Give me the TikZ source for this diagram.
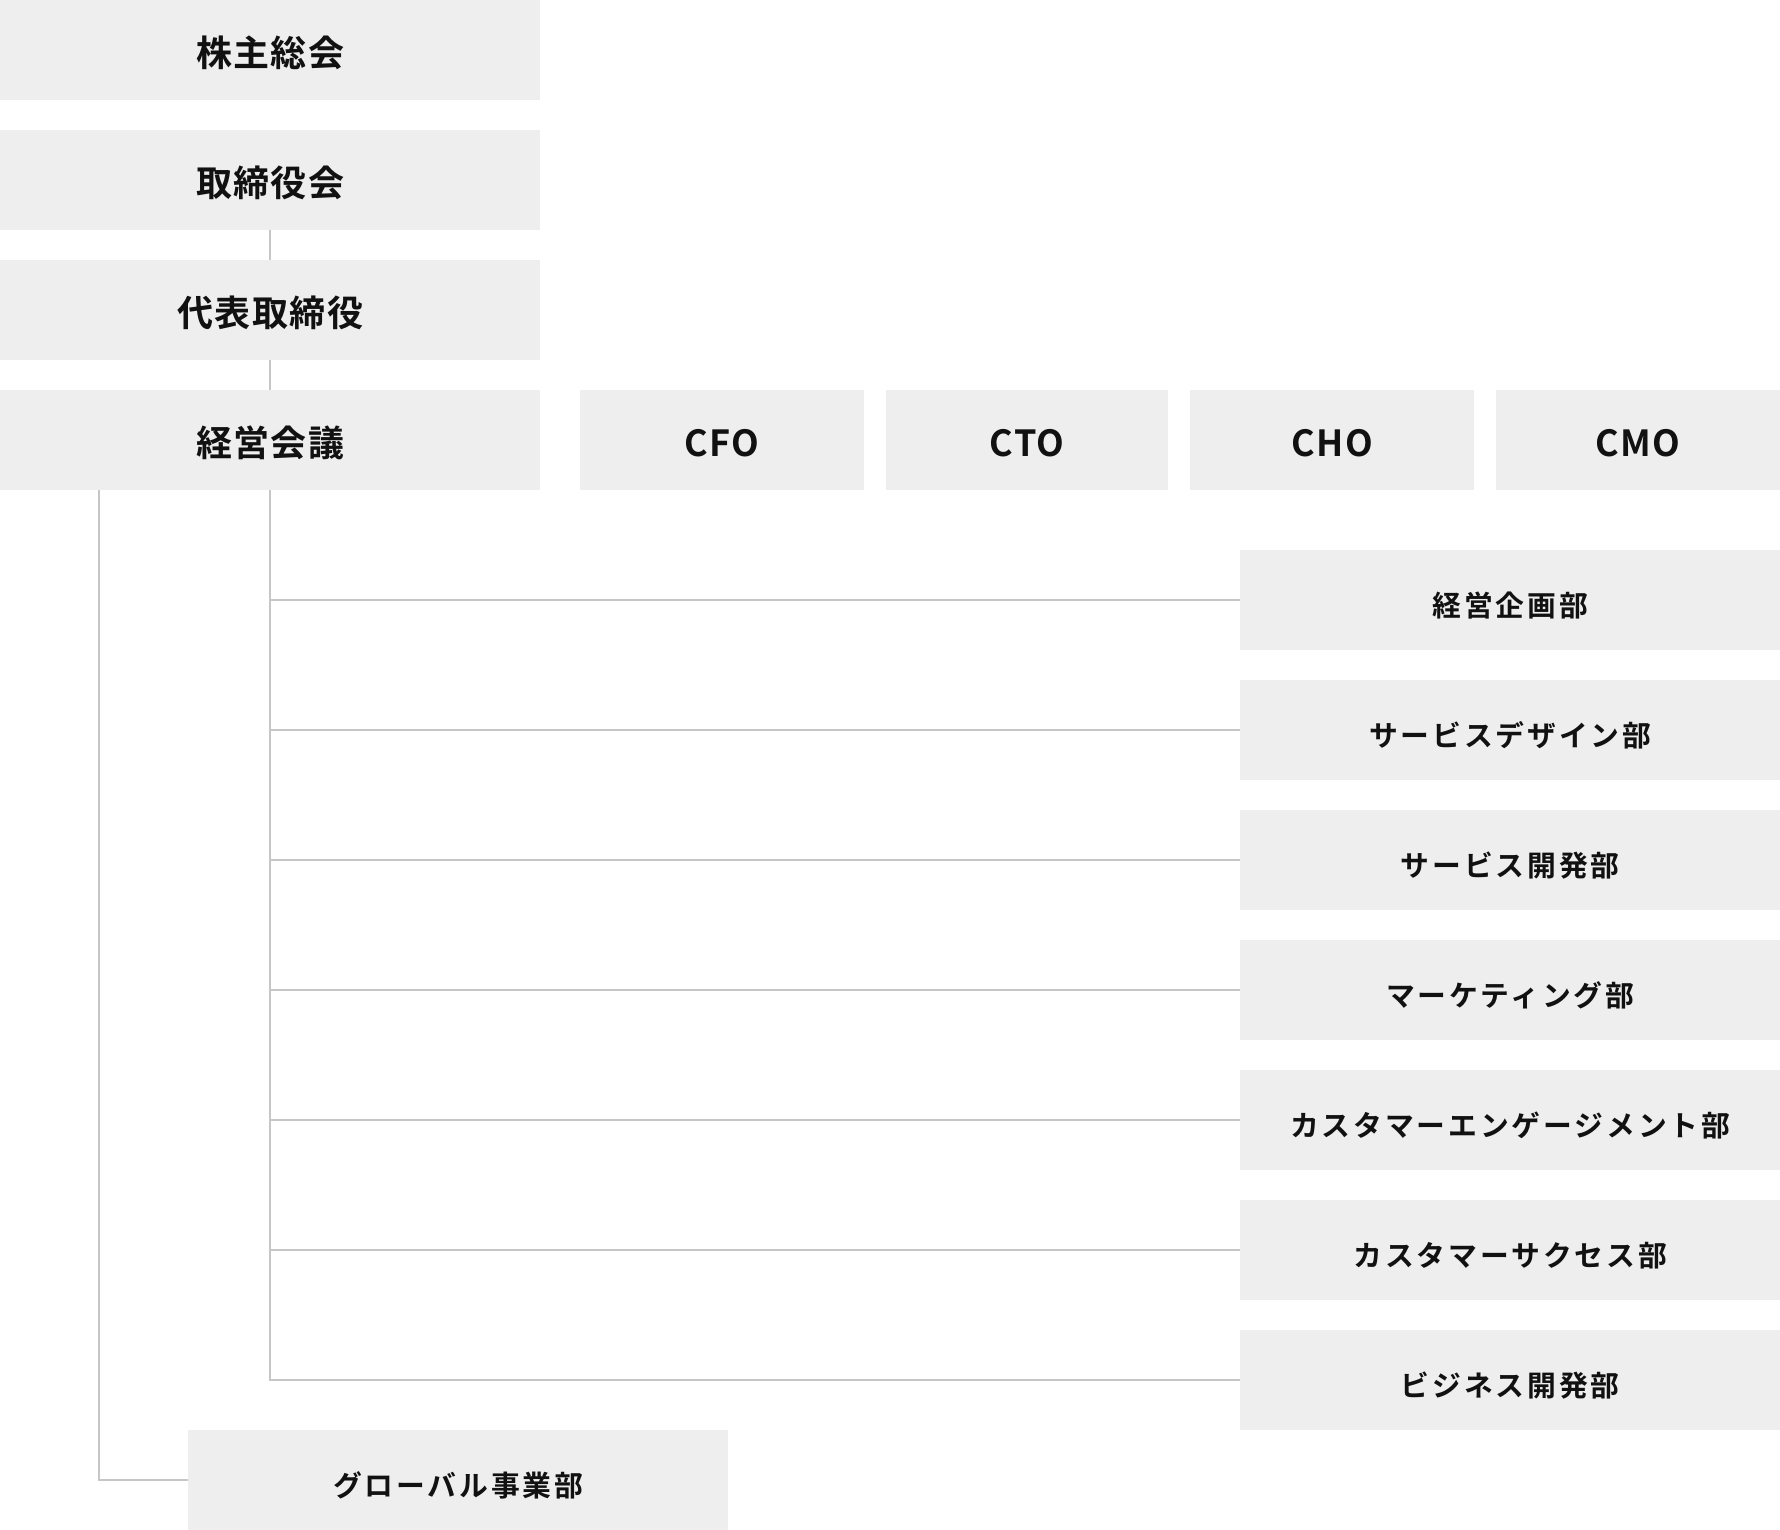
\documentclass[tikz,border=0pt]{standalone}
\usepackage{fontspec}
\newfontfamily\jpbig{Noto Sans CJK JP Bold}[LetterSpace=4]
\newfontfamily\jpsmall{Noto Sans CJK JP Bold}[LetterSpace=10]
\definecolor{boxgray}{HTML}{EEEEEE}
\definecolor{linegray}{HTML}{C6C6C6}
\definecolor{txt}{HTML}{111111}
% lower the glyphs inside a centred node by half of #1
\newcommand\lowtext[2]{\raisebox{0pt}[\dimexpr\height+#1\relax][\depth]{#2}}
\newcommand\tb[1]{\lowtext{6pt}{#1}}
\newcommand\db[1]{\lowtext{10pt}{#1}}
\begin{document}
\begin{tikzpicture}[x=1pt,y=-1pt,
  box/.style={rectangle,fill=boxgray,inner sep=0pt,anchor=north west,text=txt,
    minimum height=100pt},
  topbox/.style={box,minimum width=540pt,font=\jpbig\fontsize{36}{42}\selectfont},
  cbox/.style={box,minimum width=284pt,font=\jpbig\fontsize{36}{42}\selectfont},
  dept/.style={box,minimum width=540pt,font=\jpsmall\fontsize{28.8}{34}\selectfont},
  conn/.style={draw=linegray,line width=2pt}]
\useasboundingbox (0,0) rectangle (1780,1530);
\node[topbox] (kabu) at (0,0) {\tb{株主総会}};
\node[topbox] (tori) at (0,130) {\tb{取締役会}};
\node[topbox] (daihyo) at (0,260) {\tb{代表取締役}};
\node[topbox] (keiei) at (0,390) {\tb{経営会議}};
\node[cbox] (cfo) at (580,390) {\tb{CFO}};
\node[cbox,minimum width=282pt] (cto) at (886,390) {\tb{CTO}};
\node[cbox] (cho) at (1190,390) {\tb{CHO}};
\node[cbox] (cmo) at (1496,390) {\tb{CMO}};
\node[dept] (d1) at (1240,550) {\db{経営企画部}};
\node[dept] (d2) at (1240,680) {\db{サービスデザイン部}};
\node[dept] (d3) at (1240,810) {\db{サービス開発部}};
\node[dept] (d4) at (1240,940) {\db{マーケティング部}};
\node[dept] (d5) at (1240,1070) {\db{カスタマーエンゲージメント部}};
\node[dept] (d6) at (1240,1200) {\db{カスタマーサクセス部}};
\node[dept] (d7) at (1240,1330) {\db{ビジネス開発部}};
\node[dept] (glob) at (188,1430) {\db{グローバル事業部}};
\draw[conn] (tori.south) -- (daihyo.north);
\draw[conn] (daihyo.south) -- (keiei.north);
\draw[conn] (keiei.south) |- (d7.west);
\foreach \d in {d1,d2,d3,d4,d5,d6}{
  \draw[conn] (keiei.south |- \d.west) -- (\d.west);
}
\coordinate (gl) at ([xshift=99pt]keiei.south west);
\draw[conn] (gl) |- (glob.west);
\end{tikzpicture}
\end{document}
